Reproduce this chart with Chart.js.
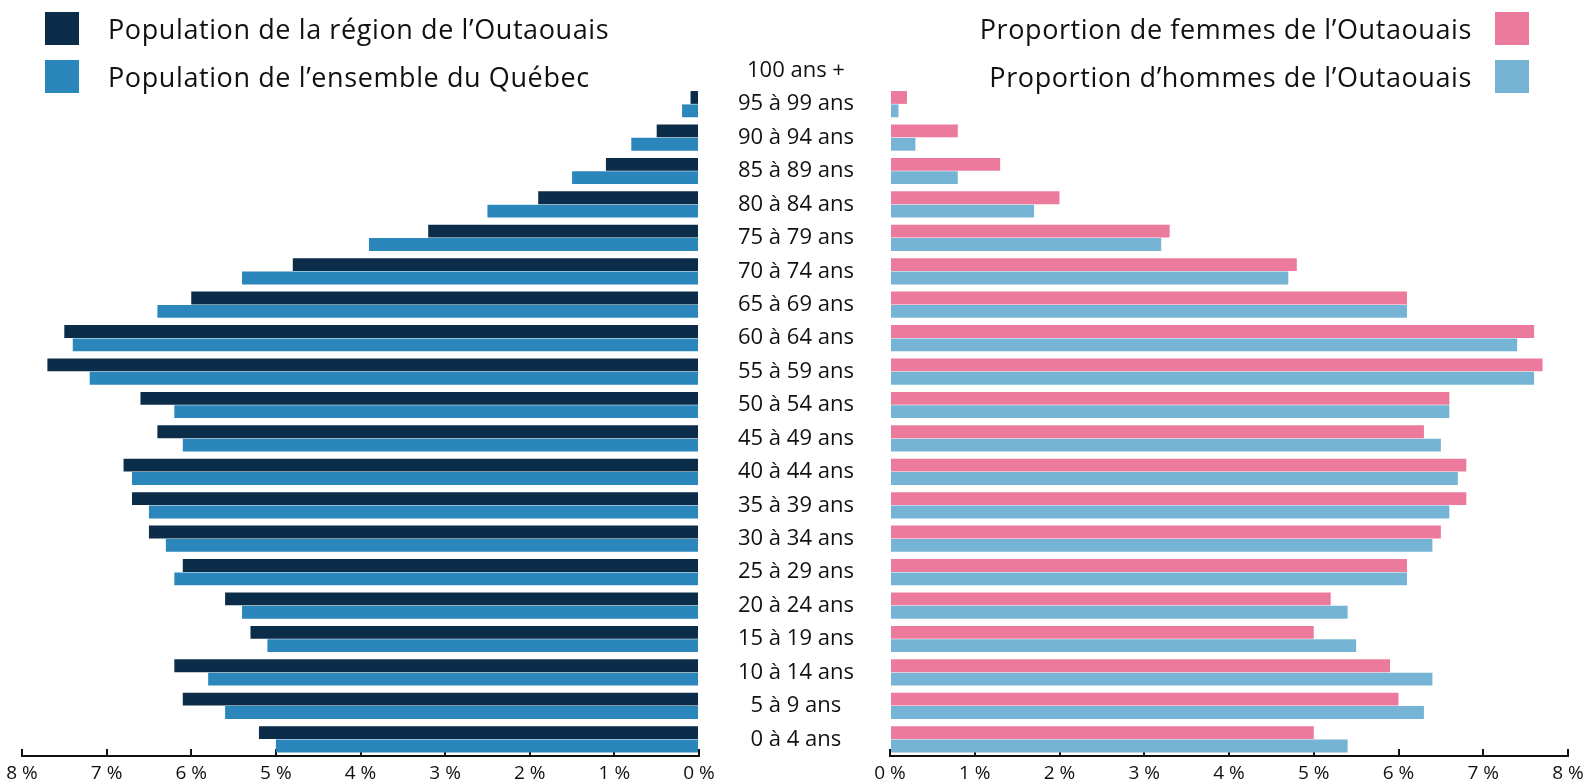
<!DOCTYPE html>
<html>
<head>
    <meta charset="utf-8">
    <title>Pyramide des âges – Outaouais</title>
    <script src="https://cdn.jsdelivr.net/npm/chart.js"></script>
    <style>
        body {
            margin: 0;
            padding: 0;
            background-color: #fff;
            font-family: "Open Sans", sans-serif;
        }

        #wrap {
            position: relative;
            width: 1591px;
            height: 784px;
            overflow: hidden;
        }

        #pyramide-gauche { position: absolute; left: 0; top: 0; }
        #pyramide-droite { position: absolute; left: 870px; top: 0; }

        .legend {
            position: absolute;
            top: 12px;
            margin: 0;
            padding: 0;
            list-style: none;
            font-size: 27px;
            letter-spacing: 0.6px;
            color: #111;
        }
        .legend li { display: flex; align-items: center; height: 33px; margin-bottom: 15px; white-space: nowrap; }
        .legend .sw { width: 34px; height: 33px; flex: none; }
        #legend-gauche { left: 45px; }
        #legend-gauche .sw { margin-right: 29px; }
        #legend-droite { right: 62px; }
        #legend-droite li { justify-content: flex-end; }
        #legend-droite .sw { margin-left: 23px; }
    </style>
</head>
<body>
<div id="wrap">
    <canvas id="pyramide-gauche" width="870" height="784"></canvas>
    <canvas id="pyramide-droite" width="721" height="784"></canvas>
    <ul class="legend" id="legend-gauche"></ul>
    <ul class="legend" id="legend-droite"></ul>
</div>

<script>
    // Groupes d'âge, du plus vieux (en haut) au plus jeune (en bas)
    var ageGroups = ['100 ans +', '95 à 99 ans', '90 à 94 ans', '85 à 89 ans', '80 à 84 ans', '75 à 79 ans',
        '70 à 74 ans', '65 à 69 ans', '60 à 64 ans', '55 à 59 ans', '50 à 54 ans', '45 à 49 ans',
        '40 à 44 ans', '35 à 39 ans', '30 à 34 ans', '25 à 29 ans', '20 à 24 ans', '15 à 19 ans',
        '10 à 14 ans', '5 à 9 ans', '0 à 4 ans'];

    // Part de chaque groupe d'âge (%)
    var regionOutaouais = [0, 0.1, 0.5, 1.1, 1.9, 3.2, 4.8, 6.0, 7.5, 7.7, 6.6, 6.4, 6.8, 6.7, 6.5, 6.1, 5.6, 5.3, 6.2, 6.1, 5.2];
    var ensembleQuebec  = [0, 0.2, 0.8, 1.5, 2.5, 3.9, 5.4, 6.4, 7.4, 7.2, 6.2, 6.1, 6.7, 6.5, 6.3, 6.2, 5.4, 5.1, 5.8, 5.6, 5.0];
    var femmesOutaouais = [0, 0.2, 0.8, 1.3, 2.0, 3.3, 4.8, 6.1, 7.6, 7.7, 6.6, 6.3, 6.8, 6.8, 6.5, 6.1, 5.2, 5.0, 5.9, 6.0, 5.0];
    var hommesOutaouais = [0, 0.1, 0.3, 0.8, 1.7, 3.2, 4.7, 6.1, 7.4, 7.6, 6.6, 6.5, 6.7, 6.6, 6.4, 6.1, 5.4, 5.5, 6.4, 6.3, 5.4];

    // Axe des pourcentages
    var axisMin = 0;
    var axisMax = 8;
    var axisStep = 1;

    var textColor = '#111';
    var labelFont = { family: 'Open Sans', size: 22 };
    var tickFont = { family: 'Open Sans', size: 19 };

    // centre des étiquettes d'âge : 97 px à droite du 0 % de gauche
    var measure = document.createElement('canvas').getContext('2d');
    measure.font = labelFont.size + 'px "' + labelFont.family + '"';
    var widest = 0;
    ageGroups.forEach(function (g) { widest = Math.max(widest, measure.measureText(g).width); });
    var labelPadding = Math.round(97 - widest / 2);

    function percentAxis(reverse) {
        return {
            min: axisMin,
            max: axisMax,
            reverse: reverse,
            ticks: {
                stepSize: axisStep,
                autoSkip: false,
                maxRotation: 0,
                padding: 13,
                color: textColor,
                font: tickFont,
                callback: function (value) { return value + ' %'; }
            },
            grid: { drawOnChartArea: false, drawTicks: true, tickLength: -7, color: textColor, lineWidth: 2 },
            border: { display: true, color: textColor, width: 2 },
            afterFit: function (scale) {
                scale.height = 28;
                // layout padding already leaves room for the end labels
                scale.paddingLeft = 0;
                scale.paddingRight = 0;
            }
        };
    }

    var barOptions = { categoryPercentage: 0.8, barPercentage: 0.96 };

    var leftChart = new Chart(document.getElementById('pyramide-gauche'), {
        type: 'bar',
        data: {
            labels: ageGroups,
            datasets: [
                { label: 'Population de la région de l’Outaouais', data: regionOutaouais, backgroundColor: '#0b2d4a' },
                { label: 'Population de l’ensemble du Québec', data: ensembleQuebec, backgroundColor: '#2a86bb' }
            ]
        },
        options: {
            indexAxis: 'y',
            responsive: false,
            animation: false,
            layout: { padding: { left: 22, top: 54, right: 0, bottom: 0 } },
            datasets: { bar: barOptions },
            plugins: { legend: { display: false }, tooltip: { enabled: false } },
            scales: {
                x: percentAxis(true),
                y: {
                    position: 'right',
                    grid: { display: false, drawTicks: false },
                    border: { display: false },
                    ticks: { autoSkip: false, crossAlign: 'center', padding: labelPadding, color: textColor, font: labelFont },
                    afterFit: function (scale) {
                        scale.width = 171;
                        // the big label padding must not push the chart area
                        scale.paddingTop = 0;
                        scale.paddingBottom = 0;
                    }
                }
            }
        }
    });

    var rightChart = new Chart(document.getElementById('pyramide-droite'), {
        type: 'bar',
        data: {
            labels: ageGroups,
            datasets: [
                { label: 'Proportion de femmes de l’Outaouais', data: femmesOutaouais, backgroundColor: '#ec7a9c' },
                { label: 'Proportion d’hommes de l’Outaouais', data: hommesOutaouais, backgroundColor: '#76b4d6' }
            ]
        },
        options: {
            indexAxis: 'y',
            responsive: false,
            animation: false,
            layout: { padding: { left: 20, top: 54, right: 23, bottom: 0 } },
            datasets: { bar: barOptions },
            plugins: { legend: { display: false }, tooltip: { enabled: false } },
            scales: {
                x: percentAxis(false),
                y: { display: false }
            }
        }
    });

    // Légendes HTML construites à partir des séries
    function buildLegend(chart, id, swatchAfter) {
        var ul = document.getElementById(id);
        chart.data.datasets.forEach(function (ds) {
            var li = document.createElement('li');
            var sw = document.createElement('span');
            sw.className = 'sw';
            sw.style.backgroundColor = ds.backgroundColor;
            var txt = document.createElement('span');
            txt.textContent = ds.label;
            if (swatchAfter) {
                li.appendChild(txt);
                li.appendChild(sw);
            } else {
                li.appendChild(sw);
                li.appendChild(txt);
            }
            ul.appendChild(li);
        });
    }
    buildLegend(leftChart, 'legend-gauche', false);
    buildLegend(rightChart, 'legend-droite', true);
</script>
</body>
</html>
